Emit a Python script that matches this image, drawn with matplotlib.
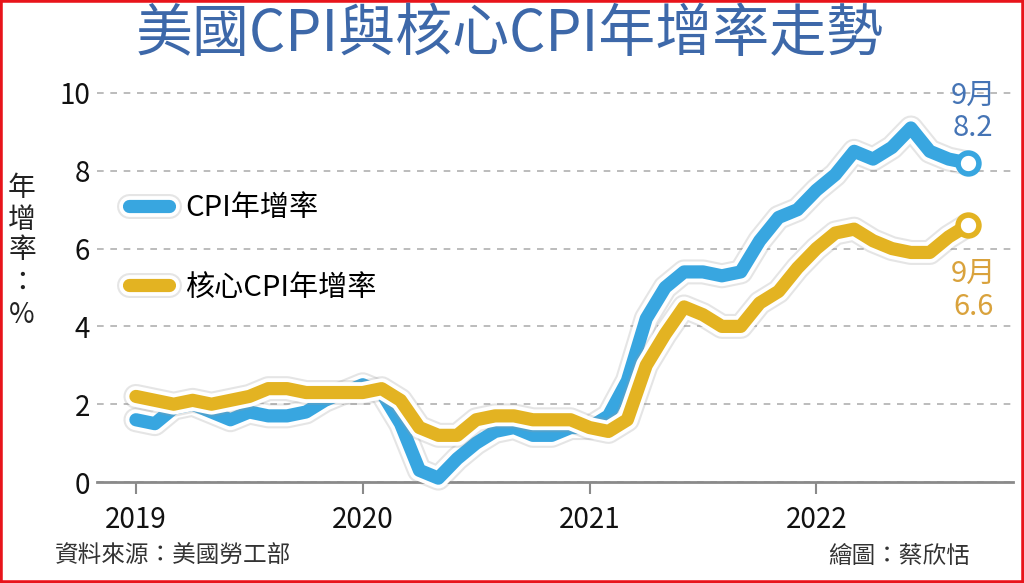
import matplotlib
matplotlib.use('Agg')
import matplotlib.pyplot as plt
import matplotlib.patheffects as pe
from matplotlib.patches import Rectangle
import numpy as np

plt.rcParams['font.family'] = ['Noto Sans CJK TC', 'DejaVu Sans']

#%% data (monthly, Jan 2019 - Sep 2022)
months = np.arange(45)
cpi = [1.6, 1.5, 1.9, 2.0, 1.8, 1.6, 1.8, 1.7, 1.7, 1.8, 2.1, 2.3,
       2.5, 2.3, 1.5, 0.3, 0.1, 0.6, 1.0, 1.3, 1.4, 1.2, 1.2, 1.4,
       1.4, 1.7, 2.6, 4.2, 5.0, 5.4, 5.4, 5.3, 5.4, 6.2, 6.8, 7.0,
       7.5, 7.9, 8.5, 8.3, 8.6, 9.1, 8.5, 8.3, 8.2]
core = [2.2, 2.1, 2.0, 2.1, 2.0, 2.1, 2.2, 2.4, 2.4, 2.3, 2.3, 2.3,
        2.3, 2.4, 2.1, 1.4, 1.2, 1.2, 1.6, 1.7, 1.7, 1.6, 1.6, 1.6,
        1.4, 1.3, 1.6, 3.0, 3.8, 4.5, 4.3, 4.0, 4.0, 4.6, 4.9, 5.5,
        6.0, 6.4, 6.5, 6.2, 6.0, 5.9, 5.9, 6.3, 6.6]
year_ticks = [0, 12, 24, 36]
year_labels = ['2019', '2020', '2021', '2022']
y_ticks = [0, 2, 4, 6, 8, 10]
series_names = ['CPI年增率', '核心CPI年增率']

blue = '#38a6e0'
gold = '#e3b322'

#%% figure
fig = plt.figure(figsize=(10.24, 5.83), dpi=100)
ax = fig.add_axes([0.0947, 0.1732, 0.8945, 0.6874])

effects = [pe.Stroke(linewidth=18, foreground='#999999', alpha=0.25),
           pe.Stroke(linewidth=15, foreground='white'),
           pe.Normal()]

l1, = ax.plot(months, cpi, color=blue, lw=9.5, solid_capstyle='round',
              solid_joinstyle='round', path_effects=effects, clip_on=False, zorder=3)
l2, = ax.plot(months, core, color=gold, lw=9.5, solid_capstyle='round',
              solid_joinstyle='round', path_effects=effects, clip_on=False, zorder=4)

ax.plot(months[-1], cpi[-1], 'o', ms=15, mfc='white', mec=blue, mew=4,
        clip_on=False, zorder=5)
ax.plot(months[-1], core[-1], 'o', ms=15, mfc='white', mec=gold, mew=4,
        clip_on=False, zorder=5)

ax.annotate('9月\n%.1f' % cpi[-1], xy=(months[-1], cpi[-1]), xytext=(4, 37),
            textcoords='offset points', ha='center', va='center', fontsize=21,
            color='#4574b5', linespacing=1.1)
ax.annotate('9月\n%.1f' % core[-1], xy=(months[-1], core[-1]), xytext=(4, -47),
            textcoords='offset points', ha='center', va='center', fontsize=21,
            color='#d9a23c', linespacing=1.1)

ax.set_xlim(-2.06, 46.4)
ax.set_ylim(0, 10.3)
ax.set_xticks(year_ticks)
ax.set_xticklabels(year_labels)
ax.set_yticks(y_ticks)

ax.yaxis.grid(True, ls=(0, (4, 4)), color='#b0b0b0', lw=1.2)
ax.set_axisbelow(True)
for s in ['left', 'top', 'right']:
    ax.spines[s].set_visible(False)
ax.spines['bottom'].set_color('#8a8a8a')
ax.spines['bottom'].set_linewidth(2)
ax.tick_params(axis='x', length=8.6, width=1.5, color='#8a8a8a', pad=8,
               labelsize=20, labelcolor='#111111')
ax.tick_params(axis='y', length=0, pad=5, labelsize=20, labelcolor='#111111')

ax.legend([l1, l2], series_names, loc='upper left', bbox_to_anchor=(0.1255, 0.669),
          bbox_transform=fig.transFigure, frameon=False, fontsize=21,
          handlelength=1.4, handletextpad=0.55, labelspacing=1.7,
          borderpad=0, borderaxespad=0)

# title, vertical y label, footer
fig.text(0.498, 1 - 35 / 583, '美國CPI與核心CPI年增率走勢', ha='center', va='center',
         fontsize=41, weight='medium', color='#3d68a9')

for ch, ypix in zip('年增率：%', [188, 220, 250, 283, 315]):
    fig.text(22 / 1024, 1 - ypix / 583, ch, ha='center', va='center',
             fontsize=20, color='#222222')

fig.text(55 / 1024, 1 - 556 / 583, '資料來源：美國勞工部', ha='left', va='center',
         fontsize=17, color='#333333')
fig.text(970 / 1024, 1 - 556 / 583, '繪圖：蔡欣恬', ha='right', va='center',
         fontsize=17, color='#333333')

fig.patches.append(Rectangle((0, 0), 1, 1, transform=fig.transFigure, fill=False,
                             ec='#e8141b', lw=4))

fig.savefig('out.png', dpi=100)
